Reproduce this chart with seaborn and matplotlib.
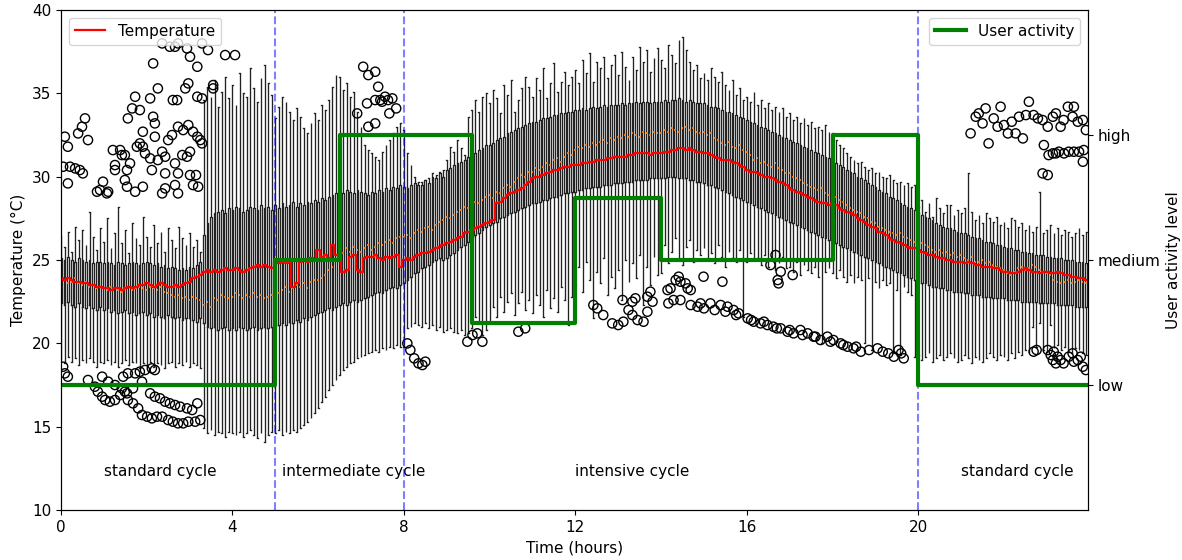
import numpy as np
import pandas as pd
import matplotlib
matplotlib.use("Agg")
import matplotlib.pyplot as plt
import seaborn as sns

# ---------------- data (one box every 5 minutes, 24 h -> 288 boxes) -------------
box_step_minutes = 5

temp_mean = [
 23.9, 23.8, 23.9, 23.8, 23.7, 23.7, 23.6, 23.6, 23.5, 23.5, 23.4, 23.4,
 23.3, 23.3, 23.2, 23.3, 23.3, 23.2, 23.3, 23.4, 23.3, 23.4, 23.5, 23.5,
 23.6, 23.5, 23.4, 23.5, 23.6, 23.5, 23.4, 23.4, 23.5, 23.4, 23.5, 23.6,
 23.7, 23.9, 24.0, 24.1, 24.3, 24.4, 24.3, 24.4, 24.3, 24.4, 24.5, 24.4,
 24.4, 24.5, 24.4, 24.3, 24.4, 24.5, 24.6, 24.7, 24.6, 24.7, 24.6, 24.5,
 24.9, 24.8, 24.9, 24.8, 24.9, 23.4, 23.6, 24.9, 25.0, 24.9, 25.1, 25.0,
 25.6, 25.2, 25.3, 25.1, 25.9, 25.3, 25.2, 24.3, 24.4, 25.2, 25.3, 24.4,
 24.3, 25.1, 25.2, 25.2, 25.3, 25.1, 25.0, 25.2, 25.1, 25.2, 25.3, 24.6,
 25.0, 25.1, 25.0, 25.2, 25.3, 25.4, 25.4, 25.5, 25.6, 25.7, 25.8, 25.9,
 26.0, 26.1, 26.2, 26.3, 26.4, 26.6, 26.7, 26.8, 26.9, 27.0, 27.1, 27.2,
 27.3, 27.4, 28.4, 28.5, 28.7, 28.9, 29.0, 29.1, 29.2, 29.3, 29.5, 29.7,
 29.9, 30.0, 30.0, 30.1, 30.2, 30.3, 30.4, 30.4, 30.5, 30.6, 30.6, 30.7,
 30.7, 30.7, 30.8, 30.8, 30.9, 30.9, 31.0, 31.0, 31.0, 31.1, 31.1, 31.2,
 31.2, 31.2, 31.2, 31.3, 31.3, 31.4, 31.4, 31.4, 31.4, 31.3, 31.4, 31.4,
 31.4, 31.5, 31.5, 31.6, 31.6, 31.7, 31.7, 31.6, 31.7, 31.6, 31.5, 31.5,
 31.4, 31.4, 31.3, 31.2, 31.1, 31.0, 31.0, 31.0, 30.9, 30.8, 30.7, 30.6,
 30.4, 30.3, 30.3, 30.2, 30.1, 30.0, 30.0, 29.9, 29.8, 29.7, 29.6, 29.5,
 29.3, 29.2, 29.1, 29.0, 28.9, 28.8, 28.7, 28.6, 28.5, 28.4, 28.4, 28.3,
 28.4, 28.3, 28.1, 28.0, 27.9, 27.8, 27.7, 27.5, 27.4, 27.3, 27.1, 27.0,
 26.9, 26.7, 26.6, 26.5, 26.3, 26.2, 26.1, 26.0, 25.9, 25.8, 25.7, 25.7,
 25.6, 25.5, 25.4, 25.3, 25.3, 25.2, 25.1, 25.1, 25.0, 25.0, 24.9, 24.9,
 24.9, 24.8, 24.9, 24.8, 24.7, 24.7, 24.6, 24.6, 24.6, 24.5, 24.5, 24.4,
 24.3, 24.3, 24.2, 24.2, 24.3, 24.4, 24.5, 24.4, 24.3, 24.3, 24.2, 24.3,
 24.3, 24.2, 24.2, 24.3, 24.2, 24.1, 24.1, 24.0, 24.0, 23.9, 23.9, 23.8,
]

temp_median = [
 23.7, 23.8, 23.6, 23.7, 23.9, 23.6, 23.5, 23.7, 23.4, 23.5, 23.3, 23.4,
 23.3, 23.2, 23.4, 23.3, 23.2, 23.1, 23.3, 23.4, 23.2, 23.3, 23.4, 23.3,
 23.2, 23.4, 23.3, 23.2, 23.4, 23.1, 23.0, 22.9, 22.8, 22.9, 22.7, 22.8,
 22.6, 22.8, 22.7, 22.6, 22.3, 22.5, 22.2, 22.7, 22.6, 22.9, 22.8, 22.7,
 22.8, 23.0, 22.9, 22.7, 22.9, 22.8, 23.0, 22.8, 22.9, 22.7, 22.8, 22.9,
 22.8, 23.0, 23.2, 23.4, 23.1, 23.3, 23.5, 23.4, 23.6, 23.3, 23.7, 23.8,
 23.8, 23.9, 24.1, 24.4, 24.6, 25.0, 25.6, 25.4, 25.7, 25.5, 25.8, 25.6,
 25.5, 25.7, 25.9, 25.6, 25.8, 26.0, 25.9, 26.1, 26.2, 26.0, 26.3, 26.4,
 26.4, 26.5, 26.3, 26.6, 26.8, 26.7, 26.9, 27.0, 26.8, 27.1, 27.3, 27.4,
 27.6, 27.5, 27.7, 27.9, 28.0, 28.2, 28.1, 28.3, 28.5, 28.4, 28.6, 28.8,
 28.9, 28.7, 29.1, 29.0, 29.3, 29.5, 29.4, 29.7, 29.9, 30.1, 30.0, 30.3,
 30.3, 30.5, 30.4, 30.6, 30.8, 30.7, 31.0, 31.1, 30.9, 31.2, 31.4, 31.3,
 31.6, 31.8, 31.7, 31.9, 31.8, 32.0, 31.9, 32.1, 32.2, 32.0, 32.3, 32.2,
 32.4, 32.3, 32.5, 32.4, 32.6, 32.5, 32.4, 32.7, 32.6, 32.5, 32.7, 32.6,
 32.6, 32.8, 32.7, 32.9, 32.8, 32.7, 32.9, 33.0, 32.8, 32.9, 32.7, 32.6,
 32.7, 32.5, 32.6, 32.3, 32.2, 32.0, 31.9, 32.1, 31.8, 31.7, 31.9, 31.6,
 31.5, 31.3, 31.0, 31.1, 30.8, 30.9, 30.7, 30.6, 30.8, 30.5, 30.4, 30.2,
 30.2, 30.0, 29.9, 29.8, 29.6, 29.5, 29.4, 29.3, 29.2, 29.3, 29.0, 28.9,
 28.7, 28.8, 28.6, 28.5, 28.3, 28.1, 28.0, 27.9, 27.8, 27.6, 27.5, 27.3,
 27.2, 27.0, 26.9, 26.8, 26.7, 26.6, 26.5, 26.6, 26.4, 26.3, 26.2, 26.1,
 26.2, 26.0, 25.9, 25.8, 25.6, 25.5, 25.6, 25.4, 25.5, 25.3, 25.4, 25.2,
 25.3, 25.1, 25.0, 25.2, 24.9, 24.9, 25.0, 24.8, 24.9, 24.7, 24.6, 24.5,
 24.4, 24.2, 24.1, 24.3, 24.5, 24.6, 24.4, 24.5, 24.7, 24.6, 24.4, 24.3,
 24.2, 24.1, 23.8, 23.7, 23.6, 23.7, 23.8, 23.6, 23.7, 23.8, 23.7, 23.6,
]

temp_q3 = [
 25.1, 25.0, 25.2, 25.0, 24.9, 25.1, 25.0, 24.9, 25.0, 24.8, 24.9, 24.9,
 24.8, 24.9, 24.8, 24.7, 24.9, 24.8, 24.7, 24.8, 24.9, 24.8, 24.7, 24.8,
 24.9, 24.8, 24.7, 24.8, 24.6, 24.7, 24.5, 24.6, 24.5, 24.4, 24.5, 24.4,
 24.6, 24.5, 24.7, 24.9, 26.5, 27.2, 27.6, 27.8, 27.9, 28.0, 27.8, 28.1,
 28.0, 28.2, 28.1, 27.9, 28.0, 28.2, 28.1, 28.0, 28.3, 28.1, 28.2, 28.0,
 28.3, 28.1, 28.4, 28.2, 28.3, 28.5, 28.2, 28.4, 28.3, 28.5, 28.4, 28.6,
 28.5, 28.7, 28.6, 28.8, 28.9, 29.0, 29.1, 29.0, 29.2, 29.1, 29.0, 29.2,
 29.1, 29.0, 28.9, 29.1, 29.0, 29.2, 29.1, 29.3, 29.2, 29.4, 29.3, 29.5,
 29.4, 29.3, 29.5, 29.6, 29.5, 29.7, 29.8, 29.9, 30.0, 30.1, 30.2, 30.4,
 30.4, 30.5, 30.7, 30.8, 30.9, 31.0, 31.2, 31.3, 31.4, 31.6, 31.7, 31.9,
 31.9, 32.0, 32.2, 32.3, 32.4, 32.6, 32.7, 32.8, 32.9, 33.0, 33.1, 33.2,
 33.3, 33.3, 33.4, 33.5, 33.5, 33.6, 33.7, 33.7, 33.8, 33.8, 33.9, 33.9,
 34.0, 34.0, 34.1, 34.0, 34.1, 34.2, 34.1, 34.2, 34.3, 34.2, 34.3, 34.3,
 34.3, 34.4, 34.3, 34.4, 34.4, 34.5, 34.4, 34.5, 34.5, 34.4, 34.5, 34.5,
 34.5, 34.6, 34.5, 34.6, 34.6, 34.7, 34.6, 34.5, 34.6, 34.5, 34.4, 34.4,
 34.4, 34.3, 34.2, 34.2, 34.1, 34.0, 33.9, 33.9, 33.8, 33.7, 33.6, 33.5,
 33.4, 33.3, 33.2, 33.1, 33.0, 32.9, 32.8, 32.7, 32.6, 32.5, 32.4, 32.3,
 32.2, 32.1, 32.0, 31.9, 31.8, 31.7, 31.6, 31.5, 31.4, 31.3, 31.2, 31.1,
 30.9, 30.8, 30.7, 30.6, 30.4, 30.3, 30.2, 30.0, 29.9, 29.8, 29.6, 29.5,
 29.4, 29.2, 29.1, 29.0, 28.8, 28.7, 28.6, 28.4, 28.3, 28.2, 28.1, 28.0,
 27.9, 27.7, 27.6, 27.5, 27.4, 27.2, 27.1, 27.0, 26.9, 26.9, 26.8, 26.7,
 26.6, 26.6, 26.5, 26.4, 26.3, 26.3, 26.2, 26.1, 26.1, 26.0, 25.9, 25.9,
 25.8, 25.7, 25.7, 25.6, 25.6, 25.5, 25.5, 25.4, 25.4, 25.3, 25.3, 25.3,
 25.2, 25.2, 25.1, 25.1, 25.1, 25.0, 25.0, 25.0, 24.9, 24.9, 24.9, 24.8,
]

temp_q1 = [
 22.4, 22.3, 22.5, 22.3, 22.2, 22.4, 22.2, 22.1, 22.3, 22.1, 22.0, 22.2,
 22.0, 22.1, 21.9, 22.0, 21.8, 21.9, 22.0, 21.8, 21.9, 21.7, 21.8, 21.9,
 21.7, 21.8, 21.6, 21.7, 21.6, 21.5, 21.7, 21.6, 21.5, 21.6, 21.4, 21.5,
 21.5, 21.4, 21.3, 21.5, 21.2, 21.0, 20.9, 21.0, 20.8, 20.9, 21.0, 20.8,
 20.9, 20.8, 21.0, 20.9, 20.8, 20.9, 21.0, 20.8, 20.9, 21.0, 20.9, 21.0,
 21.0, 21.1, 21.2, 21.1, 21.3, 21.2, 21.4, 21.3, 21.5, 21.4, 21.6, 21.7,
 21.8, 21.9, 22.0, 22.1, 22.0, 22.2, 22.3, 22.4, 22.3, 22.5, 22.6, 22.5,
 22.6, 22.7, 22.8, 22.9, 23.0, 23.1, 23.0, 23.2, 23.3, 23.4, 23.3, 23.5,
 23.6, 23.8, 24.0, 24.2, 24.3, 24.5, 24.6, 24.7, 24.9, 25.0, 25.1, 25.0,
 25.1, 25.3, 25.4, 25.6, 25.8, 25.9, 26.1, 26.3, 26.5, 26.6, 26.8, 27.0,
 27.1, 27.2, 27.3, 27.5, 27.6, 27.7, 27.8, 27.9, 28.0, 28.1, 28.2, 28.3,
 28.4, 28.4, 28.5, 28.6, 28.6, 28.7, 28.8, 28.8, 28.9, 29.0, 29.0, 29.1,
 29.1, 29.2, 29.2, 29.3, 29.3, 29.4, 29.4, 29.4, 29.5, 29.5, 29.5, 29.6,
 29.6, 29.6, 29.7, 29.7, 29.7, 29.8, 29.8, 29.8, 29.8, 29.9, 29.9, 29.9,
 29.9, 29.9, 30.0, 30.0, 30.0, 29.9, 29.9, 29.9, 29.8, 29.8, 29.7, 29.7,
 29.6, 29.5, 29.5, 29.4, 29.3, 29.2, 29.1, 29.0, 28.9, 28.8, 28.7, 28.6,
 28.5, 28.4, 28.3, 28.2, 28.1, 28.0, 27.9, 27.8, 27.7, 27.6, 27.5, 27.4,
 27.3, 27.2, 27.1, 27.0, 26.9, 26.8, 26.7, 26.6, 26.5, 26.4, 26.3, 26.2,
 26.1, 26.0, 25.9, 25.8, 25.7, 25.6, 25.5, 25.4, 25.3, 25.2, 25.1, 25.0,
 24.9, 24.8, 24.7, 24.6, 24.5, 24.4, 24.3, 24.2, 24.1, 24.0, 23.9, 23.8,
 23.7, 23.6, 23.6, 23.5, 23.4, 23.4, 23.3, 23.3, 23.2, 23.2, 23.1, 23.1,
 23.1, 23.0, 23.0, 22.9, 22.9, 22.9, 22.8, 22.8, 22.8, 22.7, 22.7, 22.7,
 22.7, 22.6, 22.6, 22.6, 22.6, 22.5, 22.5, 22.5, 22.5, 22.5, 22.4, 22.4,
 22.4, 22.4, 22.4, 22.3, 22.3, 22.3, 22.3, 22.3, 22.2, 22.2, 22.2, 22.2,
]

temp_whisker_low = [
 19.0, 18.8, 19.2, 18.9, 19.1, 18.7, 19.0, 18.8, 19.1, 18.9, 18.6, 18.9,
 18.8, 19.0, 18.7, 18.9, 18.6, 18.8, 19.0, 18.7, 18.9, 18.8, 18.5, 18.8,
 18.7, 18.9, 18.6, 18.8, 18.7, 18.5, 18.8, 18.9, 18.6, 18.8, 18.7, 18.9,
 18.6, 18.8, 18.7, 18.5, 14.9, 14.6, 14.8, 14.5, 14.7, 14.6, 14.4, 14.7,
 14.6, 14.5, 14.7, 14.4, 14.6, 14.8, 14.5, 14.3, 14.6, 14.1, 14.5, 14.7,
 14.6, 14.8, 14.5, 14.7, 14.6, 14.8, 14.7, 14.9, 15.1, 15.3, 15.5, 15.8,
 16.1, 16.5, 16.8, 17.2, 17.5, 17.8, 18.1, 18.4, 18.6, 18.8, 18.9, 19.1,
 19.2, 19.3, 19.4, 19.5, 19.6, 19.5, 19.7, 19.6, 19.8, 19.7, 19.9, 19.8,
 19.8, 20.9, 21.0, 21.2, 21.1, 21.0, 21.2, 20.9, 21.1, 20.8, 21.0, 20.7,
 20.8, 20.9, 20.7, 20.6, 20.8, 20.5, 20.6, 20.9, 21.6, 21.2, 20.5, 20.8,
 21.3, 22.2, 21.6, 22.8, 21.9, 22.5, 23.0, 21.7, 22.4, 23.1, 22.0, 22.6,
 21.8, 22.9, 22.3, 21.6, 23.2, 22.1, 22.7, 21.9, 23.4, 22.6, 21.1, 22.8,
 23.5, 24.6, 23.1, 24.9, 23.8, 21.5, 24.3, 23.6, 25.1, 22.9, 24.0, 23.3,
 24.4, 22.6, 25.0, 23.7, 24.8, 23.9, 25.3, 22.3, 24.6, 23.5, 25.2, 24.1,
 24.2, 25.9, 24.8, 25.5, 26.3, 25.1, 24.7, 25.8, 26.2, 24.9, 25.6, 25.3,
 25.7, 25.0, 25.4, 24.8, 25.9, 25.2, 24.6, 25.5, 25.1, 24.9, 25.6, 21.6,
 24.9, 25.4, 25.0, 25.1, 24.7, 25.3, 24.6, 25.0, 24.4, 24.8, 25.2, 24.5,
 24.6, 24.3, 24.9, 24.1, 24.7, 24.4, 24.2, 24.6, 24.0, 20.0, 24.3, 24.5,
 24.2, 23.9, 24.4, 24.0, 23.7, 24.1, 23.6, 24.0, 23.8, 20.0, 23.9, 19.6,
 23.7, 23.3, 23.8, 23.5, 23.6, 19.4, 23.2, 19.3, 23.4, 23.1, 22.9, 19.2,
 19.3, 19.0, 19.2, 19.4, 18.9, 19.1, 19.3, 19.0, 19.2, 19.4, 19.1, 18.9,
 19.0, 19.3, 19.1, 18.8, 19.2, 19.0, 18.9, 19.1, 19.4, 19.2, 19.0, 19.3,
 19.2, 19.0, 19.4, 19.1, 19.5, 19.3, 19.6, 19.4, 21.0, 19.8, 21.2, 19.6,
 19.5, 21.1, 19.7, 19.9, 19.6, 19.8, 19.5, 19.4, 19.7, 19.6, 19.4, 19.3,
]

temp_whisker_high = [
 26.5, 25.8, 26.7, 25.5, 27.0, 26.2, 26.8, 25.9, 27.9, 26.4, 25.6, 26.9,
 26.1, 27.5, 25.7, 26.6, 28.2, 26.0, 26.8, 25.4, 27.2, 26.3, 25.9, 27.6,
 26.4, 25.8, 27.1, 26.0, 26.7, 25.5, 26.9, 26.2, 25.7, 27.0, 26.3, 25.9,
 26.6, 25.8, 26.2, 25.5, 34.6, 35.4, 34.8, 35.8, 34.2, 35.1, 36.0, 34.7,
 35.5, 34.3, 36.2, 35.0, 34.8, 36.5, 35.3, 34.5, 35.9, 36.7, 35.6, 34.9,
 33.5, 34.2, 34.8, 34.5, 33.9, 33.4, 34.1, 33.6, 32.9, 32.6, 33.2, 33.8,
 33.4, 34.3, 34.0, 34.6, 35.4, 36.1, 36.0, 35.2, 35.6, 34.8, 35.1, 33.9,
 33.0, 31.9, 31.6, 31.4, 31.2, 31.0, 31.5, 31.9, 32.2, 32.6, 33.0, 33.2,
 32.8, 31.4, 30.7, 30.0, 29.7, 29.5, 29.8, 29.6, 30.2, 29.9, 30.3, 30.0,
 31.0, 31.8, 31.5, 32.2, 31.7, 31.3, 33.6, 34.0, 34.6, 33.9, 34.8, 35.0,
 34.4, 35.2, 34.7, 33.8, 35.5, 34.9, 35.8, 33.9, 34.6, 35.3, 36.0, 35.4,
 34.8, 35.9, 35.2, 36.5, 34.7, 35.6, 36.8, 35.1, 35.7, 36.3, 35.5, 36.0,
 36.4, 35.6, 37.0, 36.2, 37.4, 35.7, 36.9, 36.5, 37.2, 35.9, 36.7, 37.3,
 36.1, 37.5, 36.6, 35.8, 37.2, 36.4, 37.8, 36.9, 37.6, 36.3, 37.1, 37.7,
 37.0, 36.5, 37.9, 37.3, 36.8, 38.2, 38.4, 37.6, 36.9, 36.4, 36.7, 35.9,
 36.2, 35.8, 36.5, 36.0, 35.7, 36.3, 35.5, 35.2, 35.8, 34.9, 35.3, 34.6,
 34.8, 34.5, 35.1, 34.3, 34.6, 34.1, 34.4, 34.0, 34.2, 33.9, 34.1, 33.6,
 33.8, 33.4, 33.6, 33.2, 33.5, 33.1, 33.3, 32.9, 33.0, 32.8, 33.1, 32.7,
 32.6, 32.2, 31.9, 31.7, 31.4, 31.2, 31.0, 30.8, 30.9, 30.6, 30.4, 30.5,
 30.2, 30.3, 30.0, 29.9, 30.1, 29.8, 29.6, 29.7, 29.5, 29.6, 29.4, 29.5,
 28.2, 28.6, 27.9, 28.4, 27.6, 28.7, 28.1, 27.8, 28.3, 28.3, 27.7, 28.0,
 27.8, 28.1, 30.2, 27.9, 27.4, 27.7, 27.2, 27.8, 27.5, 27.3, 27.6, 27.1,
 27.3, 26.9, 27.5, 27.4, 27.0, 27.2, 26.8, 27.1, 26.7, 27.0, 29.1, 26.6,
 26.8, 27.1, 26.6, 26.9, 26.5, 26.8, 26.7, 26.4, 26.6, 26.9, 26.5, 26.7,
]

# outliers (hour, temperature)
outlier_hour = [
 0.09, 0.16, 0.05, 0.21, 0.33, 0.44, 0.51, 0.16, 0.40, 0.49, 0.56, 0.63, 0.84, 0.98,
 1.10, 1.21, 1.38, 1.42, 1.26, 1.54, 1.49, 1.56, 1.66, 1.73, 1.84, 1.91, 1.77, 1.91,
 1.96, 2.08, 2.15, 2.19, 2.19, 2.26, 2.15, 2.36, 2.54, 2.66, 2.73, 2.94, 3.01, 3.18,
 3.29, 3.43, 3.55, 3.83, 2.61, 2.71, 2.90, 2.97, 3.18, 3.29, 2.73, 2.85, 2.97, 3.08,
 2.50, 2.59, 3.18, 3.25, 3.29, 2.08, 2.26, 2.43, 2.36, 2.83, 2.94, 3.01, 1.61, 1.84,
 1.26, 1.49, 2.12, 2.43, 2.73, 3.01, 3.15, 2.66, 0.91, 1.07, 2.43, 2.66, 1.54, 1.73,
 1.91, 3.08, 3.20, 2.73, 2.36, 3.55, 4.06,
 0.09, 0.16, 0.05, 0.63, 0.79, 0.86, 0.96, 1.03, 1.14, 1.26, 1.38, 1.49, 1.56, 1.68,
 1.80, 1.89, 2.01, 2.12, 2.24, 2.36, 2.50, 2.61, 2.73, 2.85, 2.97, 3.13, 3.25, 2.08,
 2.19, 2.31, 2.43, 2.54, 2.66, 2.78, 2.94, 3.06, 3.18, 1.45, 1.56, 1.73, 1.84, 1.96,
 2.12, 2.19, 1.89, 0.96, 1.10, 1.26, 1.42, 1.54, 1.68,
 7.05, 7.17, 7.33, 7.40, 6.91, 7.14, 7.33, 7.45, 7.56, 7.63, 7.73, 7.82, 7.66, 7.17,
 7.33, 7.49,
 8.08, 8.15, 8.24, 8.34, 8.43, 8.50, 9.48, 9.60, 9.71, 9.83, 10.67, 10.83,
 12.42, 12.51, 12.65, 12.86, 13.00, 13.12, 13.10, 13.33, 13.40, 13.24, 13.33, 13.45,
 13.59, 13.68, 13.68, 13.75, 13.80, 14.15, 14.22, 14.34, 14.41, 14.45, 14.57, 14.69,
 14.17, 14.29, 14.45, 14.69, 14.85,
 14.62, 14.92, 15.15, 15.39, 15.55, 15.69, 15.81, 16.02, 16.16, 16.32, 16.48, 16.62,
 16.79, 16.95, 17.09, 17.25, 17.42, 17.56, 17.72, 17.88, 18.02, 18.19, 18.35, 18.49,
 18.66, 19.05, 19.17, 19.43, 19.54, 19.66,
 15.00, 15.25, 15.50, 15.75, 16.10, 16.40, 16.70, 17.00, 17.30, 17.60, 17.95, 18.25,
 18.55, 18.85, 19.30, 19.60,
 14.99, 15.43, 16.67, 16.55, 16.79, 17.07, 16.72, 16.74,
 21.22, 21.34, 21.41, 21.57, 21.50, 21.64, 21.76, 21.85, 21.92, 22.00, 22.09, 22.18,
 22.27, 22.44, 22.35, 22.51, 22.58, 22.69, 22.79, 22.90, 23.02, 23.14, 23.21, 23.32,
 23.39, 23.49, 23.63, 23.60, 23.72, 23.84, 23.91, 22.93, 23.04, 23.14, 23.28, 23.40,
 23.51, 23.63, 23.75, 23.86, 23.84, 23.21, 22.90, 23.02,
 22.69, 22.76, 23.02, 23.09, 23.16, 23.25, 23.32, 23.39, 23.51, 23.60, 23.63, 23.72,
 23.79, 23.84, 23.91, 23.14, 23.21,
]
outlier_temp = [
 32.4, 31.8, 30.6, 30.6, 30.5, 30.4, 30.2, 29.6, 32.6, 33.0, 33.5, 32.2, 29.1, 29.7,
 29.1, 31.6, 31.6, 31.3, 30.7, 30.4, 31.3, 33.5, 34.1, 34.8, 34.0, 32.7, 31.8, 31.8,
 31.4, 34.7, 33.6, 33.2, 32.4, 35.3, 36.8, 38.0, 37.8, 37.8, 38.0, 37.7, 37.2, 36.6,
 38.0, 37.6, 35.5, 37.3, 34.6, 34.6, 35.3, 35.6, 34.8, 34.7, 33.0, 32.8, 33.1, 32.7,
 32.2, 32.5, 32.4, 32.2, 32.0, 31.1, 31.0, 31.2, 31.5, 31.3, 31.2, 31.5, 30.8, 32.0,
 30.4, 29.8, 30.4, 30.2, 30.2, 30.1, 30.1, 30.8, 29.2, 29.0, 29.3, 29.5, 29.4, 29.1,
 29.4, 29.5, 29.4, 29.0, 29.0, 35.3, 37.3,
 18.2, 18.0, 18.6, 17.8, 17.4, 17.1, 16.8, 16.6, 16.5, 16.6, 16.9, 17.1, 16.6, 16.4,
 16.1, 15.7, 15.6, 15.5, 15.6, 15.6, 15.4, 15.3, 15.2, 15.2, 15.3, 15.3, 15.4, 17.0,
 16.8, 16.7, 16.5, 16.4, 16.3, 16.2, 16.1, 16.0, 16.4, 18.0, 18.2, 18.2, 18.3, 18.4,
 18.5, 18.4, 17.7, 18.0, 17.7, 17.5, 17.3, 17.0, 17.3,
 36.6, 36.1, 36.3, 35.4, 33.8, 34.4, 34.6, 34.6, 34.8, 34.6, 34.7, 34.1, 33.8, 33.0,
 33.2, 34.5,
 20.0, 19.6, 19.1, 18.8, 18.7, 18.9, 20.1, 20.5, 20.6, 20.1, 20.7, 20.9,
 22.3, 22.1, 21.7, 21.2, 21.1, 21.3, 22.6, 22.5, 22.7, 22.0, 21.7, 21.4,
 21.3, 21.9, 22.8, 23.1, 22.5, 23.2, 23.3, 23.8, 24.0, 23.7, 23.6, 23.2,
 22.4, 22.6, 22.6, 22.3, 22.2,
 23.3, 22.4, 22.4, 22.3, 22.2, 22.0, 21.8, 21.5, 21.3, 21.2, 21.1, 21.0,
 20.9, 20.7, 20.6, 20.8, 20.6, 20.4, 20.2, 20.4, 20.2, 20.0, 19.8, 19.7,
 19.5, 19.7, 19.5, 19.2, 19.6, 19.1,
 22.1, 22.0, 21.9, 21.7, 21.4, 21.3, 20.9, 20.8, 20.5, 20.4, 20.1, 19.9,
 19.8, 19.6, 19.4, 19.4,
 24.0, 23.7, 25.3, 24.7, 24.3, 24.1, 23.8, 23.6,
 32.6, 33.6, 33.8, 34.1, 33.2, 32.0, 33.5, 33.0, 34.2, 33.1, 32.6, 33.3,
 32.6, 32.3, 33.6, 33.7, 34.5, 33.7, 33.5, 33.4, 33.0, 33.6, 33.8, 33.0,
 33.4, 34.2, 34.2, 33.6, 33.3, 33.4, 32.8, 31.9, 31.3, 31.4, 31.5, 31.4,
 31.5, 31.5, 31.5, 31.6, 30.9, 31.4, 30.2, 30.1,
 19.5, 19.6, 19.6, 19.3, 19.5, 19.2, 19.0, 18.8, 19.2, 19.4, 18.9, 19.0,
 19.2, 18.6, 18.4, 19.0, 18.8,
]

# user activity (step, value holds until the next change)
activity_hour = [0, 5, 6.5, 9.6, 12, 14, 18, 20, 24]
activity_level = [0, 1, 2, 0.5, 1.5, 1, 2, 0, 0]
activity_ticks = ["low", "medium", "high"]

cycle_names = ["standard cycle", "intermediate cycle", "intensive cycle", "standard cycle"]
cycle_start = [1, 5.15, 12, 21]
cycle_boundaries = [5, 8, 20]

# ---------------- build the plot ----------------
plt.rcParams["font.family"] = ["DejaVu Sans"]
plt.rcParams["font.size"] = 11

n_boxes = len(temp_mean)
box_hour = np.arange(n_boxes) * box_step_minutes / 60.0

stats = np.column_stack([temp_whisker_low, temp_q1, temp_median, temp_q3, temp_whisker_high])
df = pd.DataFrame({"hour": np.repeat(box_hour, stats.shape[1]), "temp": stats.ravel()})

fig, ax = plt.subplots(figsize=(11.82, 5.6), dpi=100)
fig.subplots_adjust(left=0.0516, right=0.9205, bottom=0.0893, top=0.982)

sns.boxplot(data=df, x="hour", y="temp", native_scale=True, whis=(0, 100),
            showfliers=False, fill=False, color="#222222", linecolor="#222222",
            linewidth=0.95, width=0.5,
            medianprops={"color": "#ff7f0e", "linewidth": 1.3}, ax=ax)

sns.scatterplot(x=outlier_hour, y=outlier_temp, marker="o", s=44,
                facecolors="none", edgecolor="black", linewidth=1.0, ax=ax, zorder=3)

sns.lineplot(x=box_hour, y=temp_mean, color="red", linewidth=1.6,
             drawstyle="steps-mid", estimator=None, label="Temperature", ax=ax, zorder=4)

for b in cycle_boundaries:
    ax.axvline(b, color="blue", alpha=0.5, linestyle="--", linewidth=1.5, zorder=5)

for name, x0 in zip(cycle_names, cycle_start):
    ax.text(x0, 12.3, name, ha="left", va="center", fontsize=11)

ax.set_xlim(0, 23.96)
ax.set_ylim(10, 40)
ax.set_xticks([0, 4, 8, 12, 16, 20])
ax.set_xticklabels(["0", "4", "8", "12", "16", "20"])
ax.set_yticks([10, 15, 20, 25, 30, 35, 40])
ax.set_xlabel("Time (hours)")
ax.set_ylabel("Temperature (°C)")
ax.legend(loc="upper left")

ax2 = ax.twinx()
sns.lineplot(x=activity_hour, y=activity_level, drawstyle="steps-post", color="green",
             linewidth=3, estimator=None, label="User activity", ax=ax2)
ax2.set_ylim(-1, 3)
ax2.set_yticks([0, 1, 2])
ax2.set_yticklabels(activity_ticks)
ax2.set_ylabel("User activity level")
ax2.set_xlim(0, 23.96)
ax2.legend(loc="upper right")

fig.savefig("out.png", dpi=100)
